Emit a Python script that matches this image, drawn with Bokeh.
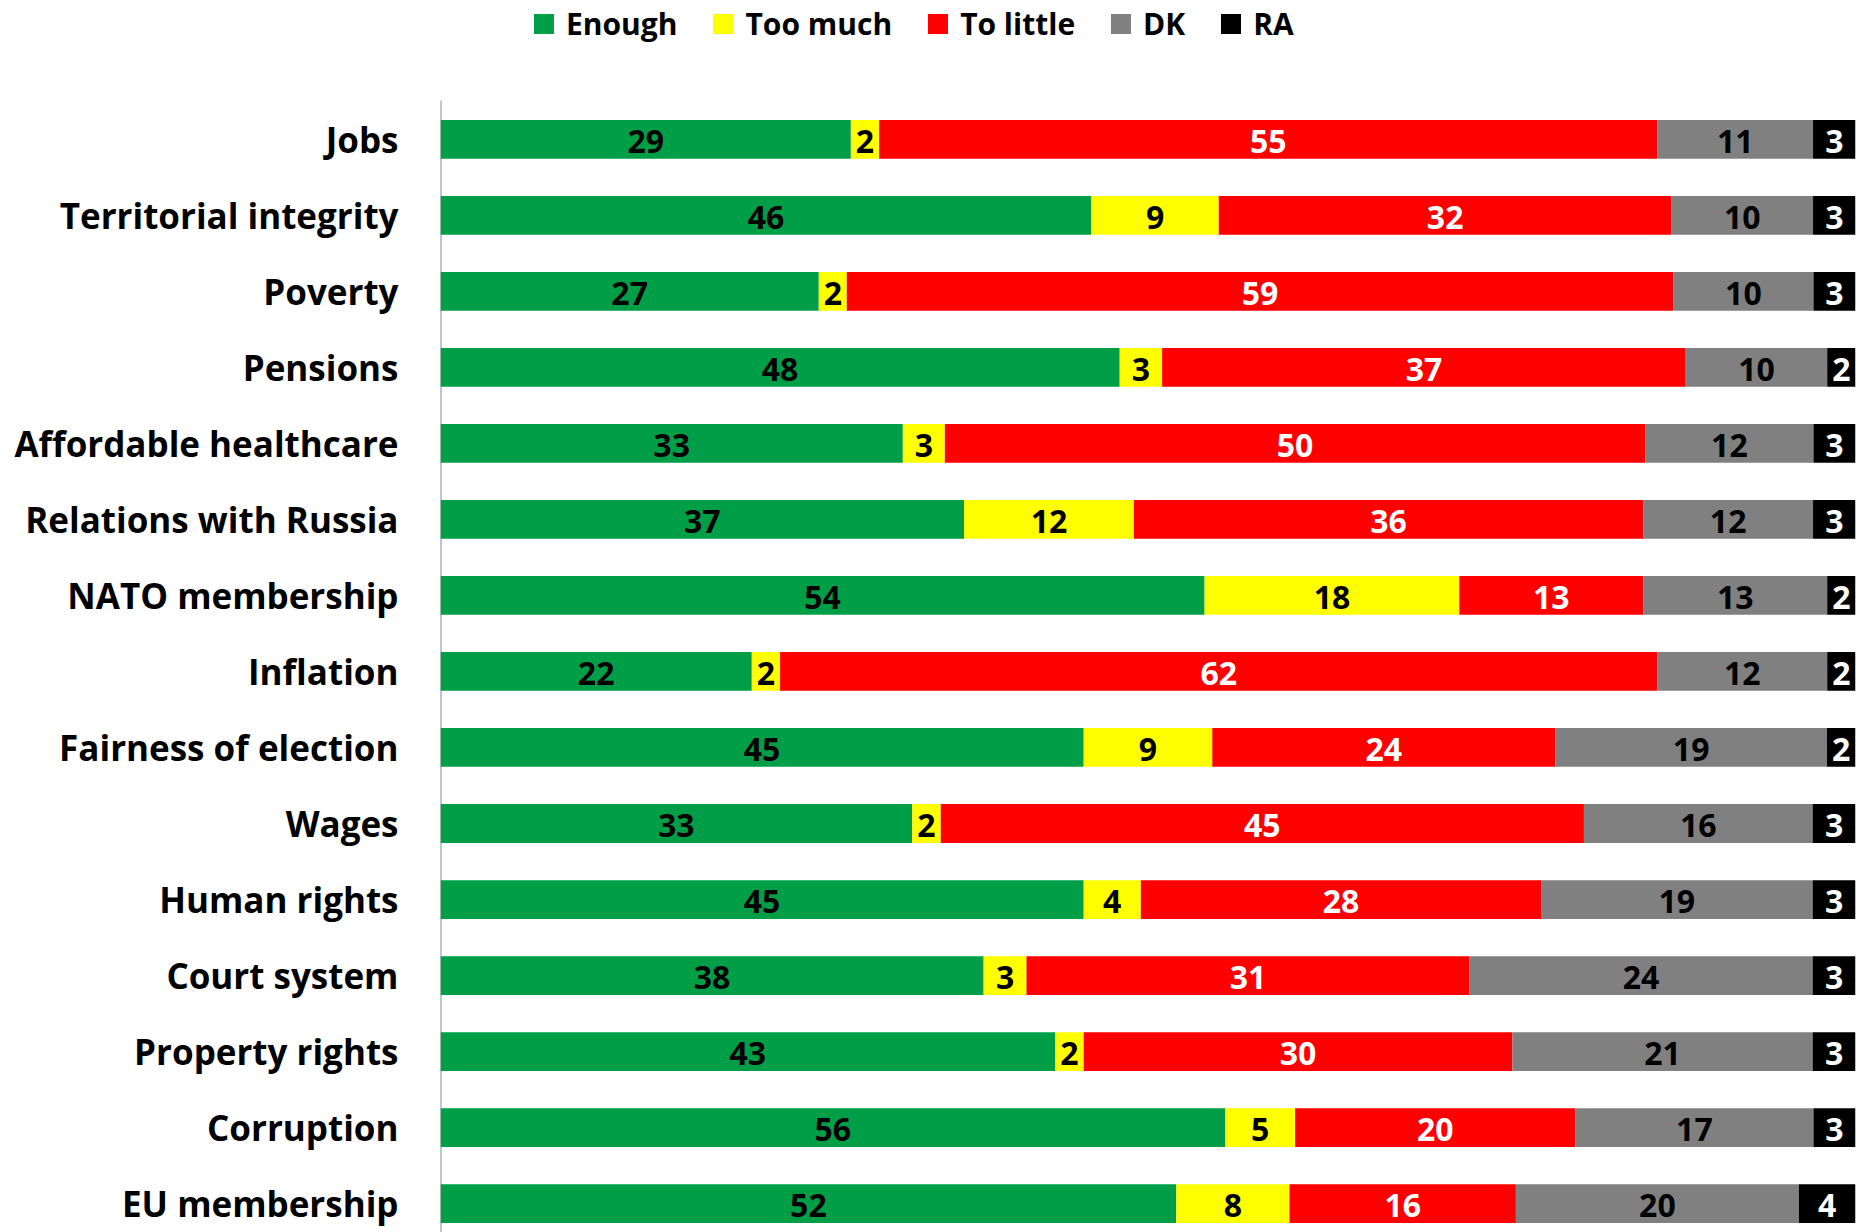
from bokeh.plotting import figure
from bokeh.models import ColumnDataSource, Range1d, FixedTicker, Legend, LegendItem
from bokeh.core.properties import value
from bokeh.embed import file_html
from bokeh.resources import INLINE

categories = ["Jobs", "Territorial integrity", "Poverty", "Pensions", "Affordable healthcare",
              "Relations with Russia", "NATO membership", "Inflation", "Fairness of election",
              "Wages", "Human rights", "Court system", "Property rights", "Corruption", "EU membership"]
enough   = [29, 46, 27, 48, 33, 37, 54, 22, 45, 33, 45, 38, 43, 56, 52]
too_much = [2, 9, 2, 3, 3, 12, 18, 2, 9, 2, 4, 3, 2, 5, 8]
to_little = [55, 32, 59, 37, 50, 36, 13, 62, 24, 45, 28, 31, 30, 20, 16]
dk       = [11, 10, 10, 10, 12, 12, 13, 12, 19, 16, 19, 24, 21, 17, 20]
ra       = [3, 3, 3, 2, 3, 3, 2, 2, 2, 3, 3, 3, 3, 3, 4]

series_names = ["Enough", "Too much", "To little", "DK", "RA"]
series = [enough, too_much, to_little, dk, ra]
colors = ["#009E47", "#FFFF00", "#FF0000", "#808080", "#000000"]
label_colors = ["black", "black", "white", "black", "white"]

FONT = "Open Sans"
n = len(categories)
ys = [n - 1 - i for i in range(n)]
totals = [sum(s[i] for s in series) for i in range(n)]

data = {"y": ys}
keys = []
for k, s in enumerate(series):
    key = "s%d" % k
    keys.append(key)
    data[key] = [s[i] / totals[i] * 100 for i in range(n)]
source = ColumnDataSource(data)

Y0 = -0.38
Y_AXIS_TOP = n - 1 + 0.51
Y1 = Y_AXIS_TOP + 100 / 76.0

p = figure(width=1859, height=1232, output_backend="svg", toolbar_location=None,
           x_range=Range1d(0, 100), y_range=Range1d(Y0, Y1),
           x_axis_location=None, min_border_left=440, min_border_right=4,
           min_border_top=0, min_border_bottom=0)
p.outline_line_color = None
p.grid.visible = False
p.background_fill_color = "white"

# axis line (only along the bars, as in the reference)
p.segment(x0=[0], y0=[Y0], x1=[0], y1=[Y_AXIS_TOP], line_color="#8C8C8C", line_width=2)

renderers = p.hbar_stack(keys, y="y", height=0.51, color=colors, line_color=None, source=source)

# labels
for k, s in enumerate(series):
    centers = []
    for i in range(n):
        left = sum(data[keys[j]][i] for j in range(k))
        centers.append(left + data[keys[k]][i] / 2)
    lsrc = ColumnDataSource({"x": centers, "y": ys, "t": [str(v) for v in s]})
    p.text(x="x", y="y", text="t", source=lsrc, text_align="center", text_baseline="middle",
           text_font=value(FONT), text_font_style="bold", text_font_size="32px",
           text_color=label_colors[k], y_offset=2)

yaxis = p.yaxis[0]
yaxis.ticker = FixedTicker(ticks=ys)
yaxis.major_label_overrides = {y: categories[i] for i, y in enumerate(ys)}
yaxis.major_tick_in = 0
yaxis.major_tick_out = 0
yaxis.minor_tick_in = 0
yaxis.minor_tick_out = 0
yaxis.major_label_standoff = 42
yaxis.axis_line_color = None
yaxis.major_label_text_font = FONT
yaxis.major_label_text_font_style = "bold"
yaxis.major_label_text_font_size = "35px"
yaxis.major_label_text_color = "black"

items = [LegendItem(label=series_names[k], renderers=[renderers[k]]) for k in range(len(series))]
legend = Legend(items=items, orientation="horizontal", location=(91, 1188),
                glyph_width=25, glyph_height=25, label_standoff=10, spacing=33,
                padding=0, margin=0, border_line_color=None, background_fill_alpha=0,
                label_text_font=FONT, label_text_font_style="bold", label_text_font_size="30px",
                label_text_color="black")
p.add_layout(legend, "center")

open("out.html", "w").write(file_html(p, INLINE))
